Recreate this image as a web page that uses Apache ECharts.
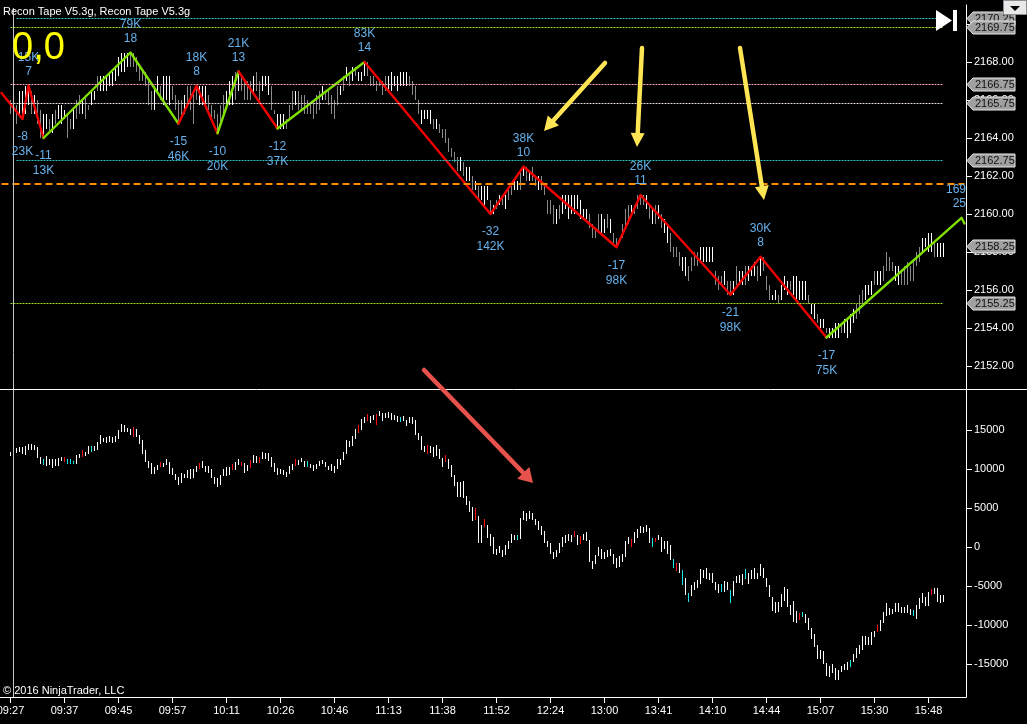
<!DOCTYPE html>
<html><head><meta charset="utf-8">
<style>html,body{margin:0;padding:0;background:#000;}#c{width:1027px;height:724px;}</style>
<script src="https://cdn.jsdelivr.net/npm/echarts@6/dist/echarts.min.js"></script>
</head><body><div id="c"></div>
<script>
const tickLabels=['09:27','09:37','09:45','09:57','10:11','10:26','10:46','11:13','11:38','11:52','12:24','13:00','13:41','14:10','14:44','15:07','15:30','15:48'];
const priceTicks=[2152,2154,2156,2158,2160,2162,2164,2166,2168,2170];
const deltaTicks=[-15000,-10000,-5000,0,5000,10000,15000];

// upper pane bars: [high, low]
const priceBars=[[2166,2165.25],[2165.25,2164],[2165.75,2164.75],[2166.5,2165.25],[2166.5,2165],[2166.75,2165.25],[2166.75,2165.75],[2166.5,2165.25],[2166.25,2165.25],[2166,2164.75],
[2165.5,2164],[2165.25,2164],[2165.25,2164.5],[2165,2164.25],[2165.25,2164.25],[2165.5,2164.75],[2165.75,2165],[2165.75,2164.75],[2165.5,2165],[2165.25,2164],
[2165,2164.5],[2165.5,2164.5],[2166,2165],[2166.25,2165.25],[2166,2165.25],[2166.25,2165],[2165.75,2165.5],[2166.5,2165.75],[2166.5,2166],[2167.25,2166.5],
[2167.25,2166.5],[2167.25,2166.5],[2167.25,2166.5],[2167.5,2166.75],[2167.5,2166.75],[2167.75,2167],[2168.25,2167.25],[2168.5,2167.5],[2168.5,2167.5],[2168.5,2167.75],
[2168.5,2167.75],[2168.5,2167.75],[2168.25,2167.5],[2167.75,2167],[2167.5,2167],[2167.5,2166.75],[2167,2165.75],[2166.5,2165.5],[2166.75,2165.5],[2167.25,2166.5],
[2166.75,2166],[2167.25,2165.75],[2167.25,2166],[2167.25,2165.75],[2166.75,2166],[2166.25,2165.5],[2166,2164.75],[2166,2165],[2166.25,2165.25],[2166.75,2165.75],
[2166.75,2165.5],[2166.5,2164.75],[2166.75,2166],[2166.75,2165.75],[2166.75,2165.75],[2166.75,2165.75],[2166.25,2165.5],[2165.75,2165],[2165.5,2165],[2165.25,2164.25],
[2165.75,2164.75],[2166.25,2165.25],[2166.5,2165.75],[2167,2165.75],[2167.25,2165.75],[2167.5,2166],[2167.5,2166.5],[2167.25,2166.5],[2167,2166],[2167,2166],
[2167,2166],[2167.25,2166.25],[2167.5,2166.5],[2167,2166],[2167.25,2166.5],[2167.25,2166.75],[2167.25,2166.25],[2166.75,2165.5],[2165.5,2165.25],[2165.25,2164.5],
[2165.25,2164.5],[2165.25,2164.5],[2165,2164.5],[2165.75,2165],[2166.5,2165.5],[2166.5,2165.75],[2166.5,2165.5],[2166.25,2165.5],[2166.25,2165.25],[2166,2165.25],
[2165.75,2165.25],[2166,2165],[2166.25,2165.25],[2166.5,2165.5],[2166.75,2166],[2166.5,2166],[2166.5,2165.75],[2166.25,2165.25],[2166,2165],[2166.75,2165.75],
[2166.75,2166.25],[2167.25,2166.5],[2167.75,2167],[2167.5,2166.75],[2167.75,2167],[2167.75,2167.25],[2167.5,2167],[2167.5,2167],[2168,2167.25],[2168,2167.25],
[2167.25,2166.75],[2167.25,2166.75],[2167,2166.5],[2167,2166.75],[2167,2166.25],[2167.25,2166.5],[2167.25,2166.5],[2167.5,2166.5],[2167.25,2166.75],[2167.25,2166.5],
[2167.5,2166.75],[2167.5,2166.75],[2167.5,2166.75],[2167.25,2166.75],[2167,2166.25],[2166.75,2166],[2166,2165.25],[2165.5,2164.75],[2165.5,2165],[2165.5,2165],
[2165.5,2164.75],[2165,2164.5],[2165,2164.5],[2164.75,2164.25],[2164.5,2164],[2164.5,2163.75],[2164,2163.25],[2163.5,2163],[2163.25,2162.75],[2163,2162.25],
[2163,2162.25],[2162.75,2162],[2162.5,2161.75],[2162.5,2161.75],[2162,2161.25],[2161.75,2161.25],[2161.5,2160.75],[2161.5,2160.75],[2161.5,2160.5],[2161.5,2160.75],
[2160.75,2160],[2160.5,2160],[2160.75,2160.25],[2161,2160.5],[2161,2160.5],[2161,2160.25],[2161.25,2160.75],[2161.5,2161],[2161.75,2161.25],[2161.75,2161.25],
[2162.25,2161.25],[2162.5,2162],[2162.5,2161.75],[2162.25,2161.75],[2162.5,2161.75],[2162,2161.5],[2162,2161.25],[2162,2161.25],[2161.5,2161],[2160.75,2160],
[2160.75,2160],[2160.5,2159.5],[2160.25,2159.5],[2160.5,2159.75],[2161,2160],[2161,2160.25],[2161,2159.75],[2161,2160],[2161,2160],[2161,2160.25],
[2160.75,2159.75],[2160.25,2159.75],[2160.25,2159.75],[2160,2159.25],[2159.5,2158.75],[2159.25,2158.75],[2160,2159],[2160,2159],[2159.75,2159],[2160,2159.25],
[2159.75,2159],[2159,2158.5],[2158.75,2158.25],[2158.75,2158.5],[2159.5,2158.75],[2160.25,2159.25],[2160.5,2159.5],[2160.5,2160],[2160.5,2160],[2161,2160.25],
[2161,2160.5],[2161,2160.5],[2161,2160.25],[2160.5,2159.75],[2160.25,2159.5],[2160.5,2159.5],[2160.5,2159.75],[2160,2159.25],[2159.75,2159],[2159.5,2158.5],
[2159,2158],[2158.25,2157.75],[2158.25,2157.75],[2158,2157.25],
[2157.75,2157],[2157.75,2156.75],[2157.25,2156.5],[2157.75,2157],[2158,2157.25],[2158,2157.25],[2158.25,2157.5],[2158.25,2157.5],[2158.25,2157.5],[2158.25,2157.5],
[2158.25,2157.5],[2157,2156.25],[2156.75,2156],[2156.75,2156.25],[2157,2156.25],[2156.5,2155.75],[2156.5,2155.75],[2156.5,2155.75],[2157.25,2156.25],[2157,2156.25],
[2157,2156.25],[2157.25,2156.25],[2157.25,2156.5],[2157.25,2156.75],[2157.5,2156.75],[2157.25,2156.5],[2157.75,2156.75],[2157.75,2157],[2156.75,2156],[2156.25,2155.5],
[2155.75,2155.5],[2156,2155.5],[2155.75,2155.25],[2156.25,2155.5],[2156.75,2156],[2156.5,2155.75],[2156.5,2156],[2156.75,2155.75],[2156.75,2155.5],[2156.5,2155.5],
[2156.5,2155.5],[2156.5,2155.5],[2155.75,2155.25],[2155.25,2154.75],[2155.25,2154.5],[2154.75,2154.25],[2154.5,2154],[2154.5,2154],[2154,2153.75],[2154,2153.5],
[2154,2153.5],[2154.25,2153.5],[2154.25,2153.5],[2154.25,2153.75],[2154.5,2153.75],[2154.5,2153.5],[2154.75,2153.75],[2155,2154.25],[2155.25,2154.5],[2155.75,2154.75],
[2156,2155.25],[2156.25,2155.5],[2156.25,2155.75],[2156.5,2155.75],[2157,2156.25],[2157,2156.25],[2157,2156.25],[2157.25,2156.5],[2158,2157],[2157.75,2157],
[2157.5,2157],[2157.25,2156.5],[2157.25,2156.25],[2157,2156.25],[2157.25,2156.25],[2157.5,2156.25],[2157.25,2156.5],[2157.5,2156.5],[2158,2157.25],[2158.25,2157.5],
[2158.75,2158],[2158.75,2158.25],[2159,2158],[2159,2158],[2158.5,2157.75],[2158.5,2157.75],[2158.5,2157.75],[2158.5,2157.75]];
const grayBars=[0,1,2,7,9,10,13,15,19,20,22,23,25,26,29,40,41,42,43,44,45,46,47,50,54,55,56,57,59,60,61,62,66,67,68,69,70,71,75,77,78,79,80,82,83,87,88,92,93,94,96,97,98,99,100,101,102,103,105,106,107,108,109,111,113,115,119,120,121,122,123,124,125,133,134,135,136,141,143,144,145,146,147,148,149,151,154,156,160,162,164,166,167,170,172,174,175,177,178,179,180,181,183,193,194,195,196,199,201,202,203,204,205,206,208,209,210,211,213,215,217,220,221,222,223,226,227,228,229,235,236,237,239,240,242,245,249,251,252,253,256,260,266,269,272,277,282,283,284,288,291,292,293,294,297,298,299,300,301,302,303,308];

// lower pane bars: [high, low]
const deltaBars=[[12180,11665],[12350,11755],[12650,12050],[12820,12180],[12820,11925],[12950,11795],[13165,12475],[13205,12475],[13075,12435],[12820,11450],
[11540,10640],[11240,10510],[11665,10435],[11280,10510],[11280,10175],[11280,10385],[11410,10385],[11540,11025],[11540,10900],[11280,10640],
[11280,10640],[11025,10640],[11795,10640],[11925,11410],[12435,11540],[12180,11665],[12950,11925],[12950,12180],[12950,12310],[13460,12435],
[14360,13205],[13975,13460],[14100,13335],[14230,13460],[14100,13335],[14230,13460],[15000,13845],[15770,14745],[15640,14745],[15255,14745],
[15130,14360],[15385,14100],[15130,14100],[14360,13205],[13720,11925],[12435,10900],[11025,10130],[10735,9360],[10255,9360],[10510,9870],
[10900,10255],[10770,10255],[11280,10510],[10900,9360],[10130,9230],[9360,8590],[8975,7950],[9490,8205],[9360,8850],[9870,8850],
[10000,8720],[10000,8850],[10385,9615],[10770,10000],[11025,10130],[10385,9615],[10385,9490],[10000,8850],[8975,8080],[8850,7695],
[9230,7950],[10000,9105],[10255,9105],[10255,9230],[10640,9870],[10900,9870],[11280,10510],[10900,10385],[10770,9490],[10510,9745],
[11155,10130],[11795,10770],[11665,10770],[11540,10770],[12180,11280],[12050,11280],[12050,11025],[11540,10255],[10770,9615],[10130,9230],
[10000,9360],[9870,9230],[9615,8975],[10385,9360],[10640,9870],[11280,10385],[11155,10510],[11410,10900],[11025,10255],[11025,10255],
[10640,10130],[10510,9745],[10640,10000],[11025,10385],[11155,10640],[10900,10255],[10385,9870],[10640,9745],[10385,9490],[11280,10000],
[11280,10510],[12180,11155],[13720,11925],[13590,12820],[14230,12950],[15130,13845],[15640,14615],[16410,15000],[16665,15900],[17050,16155],
[16795,15900],[16920,16280],[17050,15640],[17435,16795],[17180,16155],[17180,16540],[17305,16540],[17180,16280],[16920,16280],[16795,16025],
[16665,16025],[16795,16155],[16280,15515],[16665,15900],[16665,15770],[16280,14360],[14615,13720],[14230,12435],[12950,12180],[13075,11925],
[12950,12050],[12820,11540],[13075,11665],[12565,11280],[11410,10255],[11795,10900],[11280,10000],[10510,8975],[9230,7820],[8335,6410],
[8335,6410],[8460,6285],[6540,5385],[5900,4490],[5130,3335],[5000,3460],[3975,515],[2820,515],[3590,2565],[2820,1155],
[1670,130],[1285,-895],[-255,-1025],[130,-770],[-385,-1280],[260,-1025],[770,-255],[1670,515],[1540,900],[1540,900],
[3720,1025],[4615,3460],[4360,3335],[4615,3550],[4360,3460],[3590,2820],[3335,2180],[2695,1540],[2055,515],[770,0],
[515,-895],[-640,-1535],[-385,-1280],[515,-770],[1285,0],[1540,515],[1670,770],[1540,645],[2055,1285],[1540,260],
[1410,385],[1670,900],[1925,770],[900,-1920],[-1795,-2820],[-1025,-2180],[0,-1150],[-255,-1535],[-640,-1535],[-385,-1280],
[-255,-1150],[-895,-2180],[-1410,-2690],[-1150,-2560],[-895,-1920],[770,-1280],[1285,385],[1025,0],[1925,515],[2310,1155],
[2695,1795],[2565,1795],[2820,1925],[2435,515],[1155,0],[1155,645],[1540,900],[1285,-640],[770,-255],[770,-895],
[260,-1665],[-1535,-2690],[-2050,-3075],[-2050,-3330],
[-2950,-4870],[-4020,-6155],[-5940,-7050],[-4870,-6280],[-4530,-5510],[-4230,-5300],[-2820,-4745],[-2950,-4020],[-2690,-4100],[-3335,-4230],
[-3335,-4615],[-4490,-5510],[-4745,-5900],[-4745,-5770],[-4360,-5770],[-4490,-5510],[-5510,-7180],[-4360,-6280],[-3720,-4615],[-3590,-4615],
[-3460,-4870],[-2820,-4100],[-3335,-4745],[-2950,-4100],[-2690,-4100],[-3335,-4100],[-2180,-3720],[-2690,-3975],[-3975,-5130],[-4870,-6410],
[-6410,-8205],[-7050,-8460],[-7050,-8335],[-6025,-7690],[-5130,-6920],[-5385,-7690],[-7435,-8720],[-6920,-9615],[-8205,-9745],[-8460,-9360],
[-8335,-8975],[-8590,-9745],[-9100,-10640],[-10385,-11795],[-11155,-12820],[-12565,-14360],[-13205,-14360],[-13335,-15000],[-14870,-16535],[-15255,-16665],
[-15000,-16150],[-15510,-17050],[-15770,-17050],[-15255,-16025],[-15000,-15770],[-14745,-15770],[-14485,-15385],[-13720,-14745],[-12950,-14230],[-12565,-13720],
[-11410,-13205],[-11410,-12565],[-11535,-12565],[-10895,-12565],[-10770,-11535],[-10000,-10895],[-9360,-10770],[-8335,-9745],[-7180,-8845],[-7820,-8720],
[-7950,-8590],[-7180,-8335],[-7180,-8335],[-7690,-8460],[-7690,-8460],[-7435,-8460],[-7950,-8720],[-8075,-8845],[-7435,-9230],[-6540,-7950],
[-5900,-7180],[-6410,-7565],[-5770,-7565],[-5385,-6155],[-5255,-6025],[-5255,-7050],[-6155,-7180],[-6155,-7050]];
const redBars=[18,24,41,50,63,74,77,80,83,95,116,119,122,139,145,155,158,188,190,207,215,222,263,289,307];
const cyanBars=[11,19,20,21,27,99,130,169,214,221,224,226,237,240,245,264,280,301];

// swing line
const zigIdx=[-3,4,6,11,40,56,62,69,76,89,118,160,171,202,210,240,250,272,317,318];
const zigPrice=[2166.37,2165,2166.75,2164,2168.5,2164.75,2166.75,2164.25,2167.5,2164.5,2168,2160,2162.5,2158.25,2161,2155.75,2157.75,2153.5,2159.8,2159.5];
const zigSegColor=['r','r','r','g','g','r','r','g','r','g','r','r','r','r','r','r','r','g','g'];
const zigRow1=[null,'-8','15K','-11','79K','-15','18K','-10','21K','-12','83K','-32','38K','-17','26K','-21','30K','-17','169',null];
const zigRow2=[null,'23K','7','13K','18','46K','8','20K','13','37K','14','142K','10','98K','11','98K','8','75K','25',null];

// levels
const levelValues=[2170.3,2169.83,2166.83,2165.83,2162.83,2155.32];
const levelNames=['2170.25','2169.75','2166.75','2165.75','2162.75','2155.25'];
const levelColors=['#2fc4c4','#a6e022','#ffa6b8','#e6d8d8','#2fc4c4','#a6e022'];
const levelFrom=[2,0,0,0,2,0];
const levelTo=311;
const orangeLevel=2161.58;
const lastPrice=2158.32, lastName='2158.25';

const ARIAL='"Liberation Sans",Arial,sans-serif';
const PANE_RIGHT=966;
const K0=3, TOTAL=322;
const cats=[];for(let k=0;k<TOTAL;k++){const n=(k-K0)/18;cats.push(Number.isInteger(n)&&tickLabels[n]?tickLabels[n]:'');}
const isTick=i=>(i-K0)%18===0&&i>=K0&&i<K0+18*tickLabels.length;
const GRAY=new Set(grayBars),RED=new Set(redBars),CYAN=new Set(cyanBars);

function barRender(colorOf){return function(params,api){
  const x=api.value(0),hi=api.coord([x,api.value(1)]),lo=api.coord([x,api.value(2)]);
  return {type:'line',shape:{x1:hi[0],y1:Math.round(hi[1]),x2:hi[0],y2:Math.round(lo[1])},style:{stroke:colorOf(params.dataIndex),lineWidth:1}};
};}
const priceData=priceBars.map((b,i)=>[i+K0,b[0],b[1]]);
const deltaData=deltaBars.map((b,i)=>[i+K0,b[0],b[1]]);

const levelLines=levelValues.map((v,j)=>[
 {xAxis:levelFrom[j]+K0,yAxis:v,lineStyle:{color:levelColors[j],width:1,type:[2,1]}},
 {xAxis:levelTo+K0,yAxis:v}]);
levelLines.push([{xAxis:0,yAxis:orangeLevel,lineStyle:{color:'#ff8c00',width:2,type:[7,4]}},{xAxis:TOTAL-1,yAxis:orangeLevel}]);

const series=[
 {type:'custom',xAxisIndex:0,yAxisIndex:0,data:priceData,encode:{x:0,y:[1,2]},clip:true,z:2,
  renderItem:barRender(i=>GRAY.has(i)?'#8a8a8a':'#ffffff'),
  markLine:{silent:true,symbol:'none',animation:false,label:{show:false},data:[...levelLines,[{xAxis:K0+1,y:8,lineStyle:{color:'#c4c4c4',width:1,type:'solid'}},{xAxis:K0+1,y:697}]]}},
 {type:'custom',xAxisIndex:1,yAxisIndex:1,data:deltaData,encode:{x:0,y:[1,2]},clip:true,z:2,
  renderItem:barRender(i=>RED.has(i)?'#ff1010':CYAN.has(i)?'#19e6e6':'#ffffff')}
];
// swing line, one series per same-coloured run
let run=null;
for(let s=0;s<zigSegColor.length;s++){
  if(!run||run.c!==zigSegColor[s]){run={c:zigSegColor[s],pts:[[zigIdx[s]+K0,zigPrice[s]]]};
    series.push({type:'line',xAxisIndex:0,yAxisIndex:0,symbol:'none',z:4,clip:true,data:run.pts,
      lineStyle:{width:2.4,color:run.c==='r'?'#f00000':'#7fe000',cap:'round',join:'round'}});}
  run.pts.push([zigIdx[s+1]+K0,zigPrice[s+1]]);
}
// swing labels: pushed back inside the pane when they would cross its right edge
series.push({type:'custom',xAxisIndex:0,yAxisIndex:0,z:6,clip:true,
 data:zigIdx.map((v,i)=>[v+K0,zigPrice[i]]),encode:{x:0,y:1},
 renderItem(params,api){
  const i=params.dataIndex;if(!zigRow1[i])return null;
  const p=api.coord([api.value(0),api.value(1)]);
  const up=i%2===0; // swing highs have even positions in the list
  const d1=up?-28:18,d2=up?-14:33;
  const nearEdge=p[0]>PANE_RIGHT-12;
  const mk=(t,dy)=>({type:'text',style:{text:t,x:nearEdge?PANE_RIGHT:p[0],y:p[1]+dy,fill:'#68b2ee',font:'12px '+ARIAL,textAlign:nearEdge?'right':'center',textVerticalAlign:'middle'}});
  return {type:'group',children:[mk(zigRow1[i],d1),mk(zigRow2[i],d2)]};
 }});
// price tags on the axis
const tagValues=[...levelValues,lastPrice],tagNames=[...levelNames,lastName];
series.push({type:'custom',xAxisIndex:0,yAxisIndex:0,z:8,clip:false,
 data:tagValues.map(v=>[0,v]),encode:{x:0,y:1},
 renderItem(params,api){
  const y=Math.round(api.coord([0,api.value(1)])[1])+0.5;
  return {type:'group',children:[
   {type:'polygon',shape:{points:[[967,y],[973,y-6.5],[1015,y-6.5],[1015,y+6.5],[973,y+6.5]]},style:{fill:'#a0a0a0',stroke:'#e8e8e8',lineWidth:1}},
   {type:'text',style:{text:tagNames[params.dataIndex],x:975,y:y,fill:'#111',font:'11px '+ARIAL,textVerticalAlign:'middle'}}]};
 }});

// annotation arrows: [fromX,fromY,tipX,tipY,color,shaft,headLength,headWidth]
const arrows=[[605,63,544,131,'#ffe454',4.5,14,15],[642,48,637,147,'#ffe454',4.5,14,14],[740,48,764,200,'#ffe454',4.5,14,14],[424,370,533,483,'#e8524c',4.5,14,17]];
const graphic=[];
arrows.forEach(a=>{
  const [x1,y1,x2,y2,c,w,hl,hw]=a,L=Math.hypot(x2-x1,y2-y1),ux=(x2-x1)/L,uy=(y2-y1)/L,bx=x2-ux*hl,by=y2-uy*hl;
  graphic.push({type:'line',z:50,silent:true,shape:{x1,y1,x2:bx,y2:by},style:{stroke:c,lineWidth:w,lineCap:'round'}});
  graphic.push({type:'polygon',z:50,silent:true,shape:{points:[[x2,y2],[bx-uy*hw/2,by+ux*hw/2],[bx+uy*hw/2,by-ux*hw/2]]},style:{fill:c}});
});
graphic.push(
 {type:'line',z:40,silent:true,shape:{x1:0,y1:389.5,x2:1027,y2:389.5},style:{stroke:'#fff',lineWidth:1}},
 {type:'text',z:60,silent:true,style:{text:'Recon Tape V5.3g, Recon Tape V5.3g',x:3,y:12,fill:'#fff',font:'11px '+ARIAL,textVerticalAlign:'middle'}},
 {type:'text',z:60,silent:true,style:{text:'\u00a9 2016 NinjaTrader, LLC',x:3,y:691,fill:'#fff',font:'11px '+ARIAL,textVerticalAlign:'middle'}},
 {type:'text',z:60,silent:true,style:{text:'0,0',x:12,y:49,fill:'#ffff00',font:'38px '+ARIAL,textVerticalAlign:'middle'}},
 {type:'polygon',z:60,silent:true,shape:{points:[[936,10],[952,20.5],[936,31]]},style:{fill:'#fff'}},
 {type:'rect',z:60,silent:true,shape:{x:953,y:10,width:4,height:21},style:{fill:'#fff'}},
 {type:'rect',z:70,silent:true,shape:{x:1003.5,y:0.5,width:23,height:14},style:{fill:'#e8e8e8',stroke:'#8a8f96',lineWidth:1}},
 {type:'polygon',z:71,silent:true,shape:{points:[[1010,6],[1020,6],[1015,11]]},style:{fill:'#000'}}
);

const xBase={type:'category',data:cats,boundaryGap:true};
const yLabel={color:'#fff',fontFamily:ARIAL,fontSize:11,margin:8};
const chart=echarts.init(document.getElementById('c'),null,{renderer:'canvas'});
chart.setOption({
 animation:false,backgroundColor:'#000',
 grid:[{left:0,width:PANE_RIGHT,top:5,height:384,outerBoundsMode:'none'},{left:0,width:PANE_RIGHT,top:390,height:307,outerBoundsMode:'none'}],
 xAxis:[Object.assign({},xBase,{gridIndex:0,show:false}),
  Object.assign({},xBase,{gridIndex:1,
   axisLine:{show:true,onZero:false,lineStyle:{color:'#fff',width:1}},
   axisTick:{show:true,alignWithLabel:true,length:6,interval:isTick,lineStyle:{color:'#fff'}},
   axisLabel:{show:true,interval:isTick,color:'#fff',fontFamily:ARIAL,fontSize:11,margin:8,hideOverlap:false}})],
 yAxis:[
  {type:'value',gridIndex:0,position:'right',min:2150.79,max:2171,scale:true,splitLine:{show:false},
   axisLine:{show:true,onZero:false,lineStyle:{color:'#fff',width:1}},
   axisTick:{show:true,length:6,customValues:priceTicks,lineStyle:{color:'#fff'}},
   axisLabel:Object.assign({customValues:priceTicks,formatter:v=>v.toFixed(2)},yLabel)},
  {type:'value',gridIndex:1,position:'right',min:-19230,max:20130,splitLine:{show:false},
   axisLine:{show:true,onZero:false,lineStyle:{color:'#fff',width:1}},
   axisTick:{show:true,length:6,customValues:deltaTicks,lineStyle:{color:'#fff'}},
   axisLabel:Object.assign({customValues:deltaTicks,formatter:v=>String(v)},yLabel)}],
 series,graphic
});
</script></body></html>
